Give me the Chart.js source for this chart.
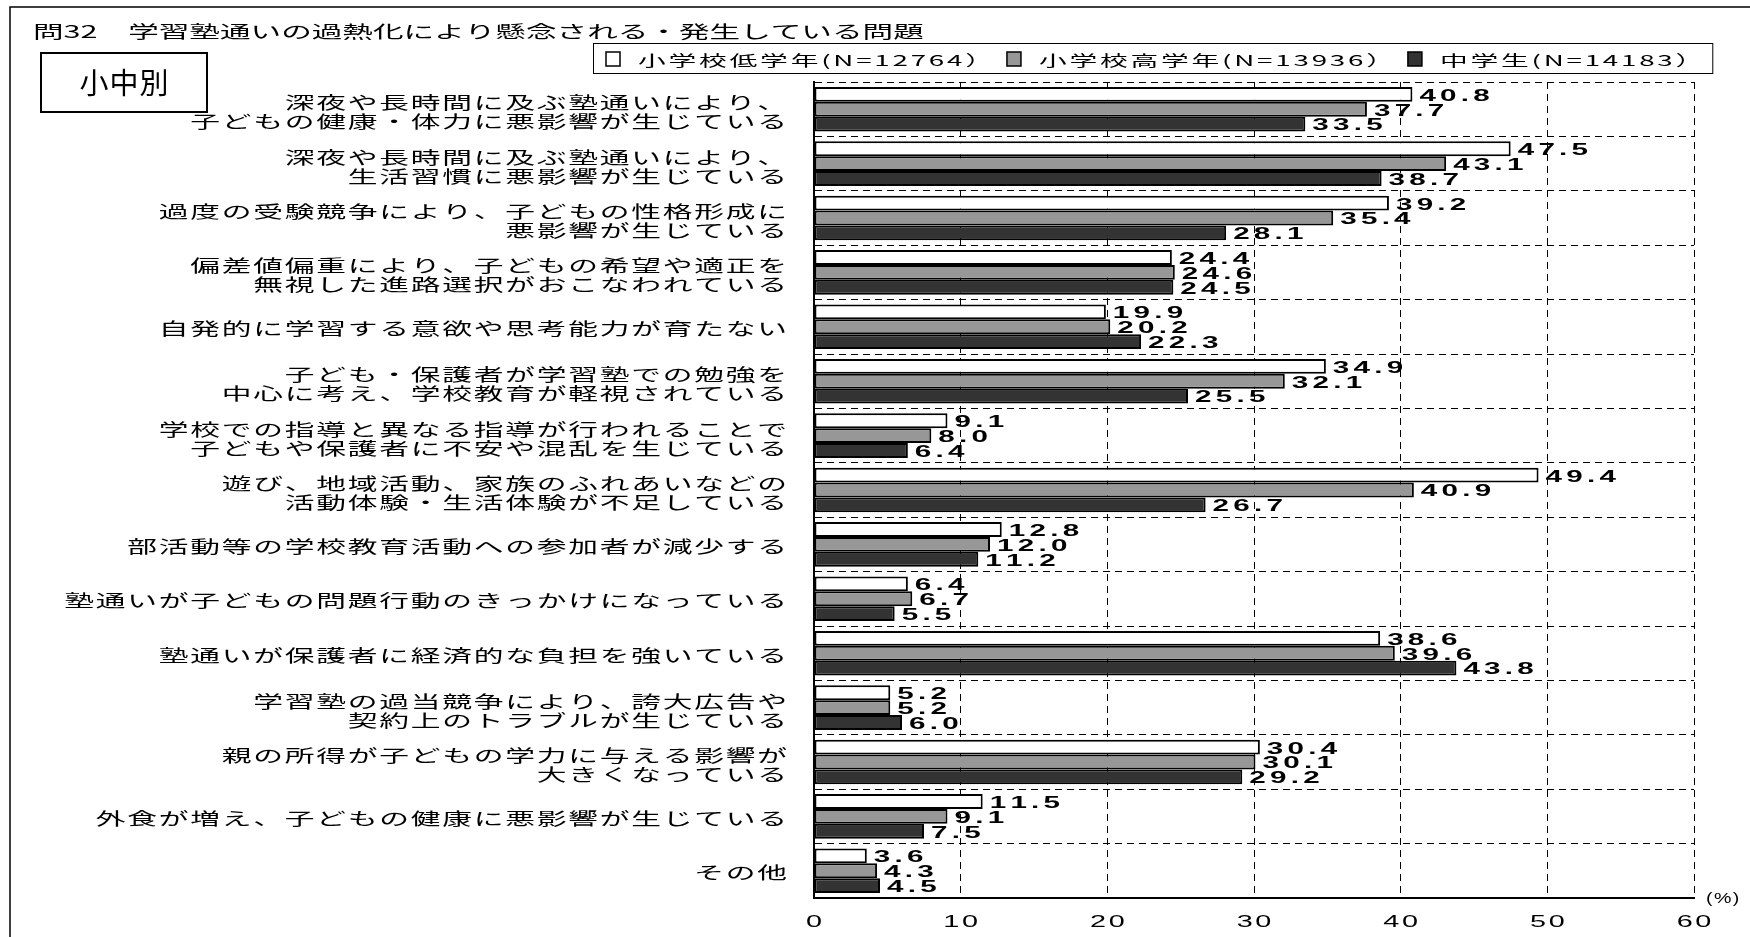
<!DOCTYPE html>
<html lang="ja">
<head>
<meta charset="utf-8">
<title>問32 学習塾通いの過熱化により懸念される・発生している問題</title>
<script src="https://cdn.jsdelivr.net/npm/chart.js@4.4.1/dist/chart.umd.min.js"></script>
<style>
  html, body { margin: 0; padding: 0; background: #fff; }
  #wrap { position: relative; width: 1750px; height: 937px; }
</style>
</head>
<body>
<div id="wrap"><canvas id="myChart"></canvas></div>
<script>
// データ
const titleText = '問32　学習塾通いの過熱化により懸念される・発生している問題';
const groupText = '小中別';

const categories = [
  ['深夜や長時間に及ぶ塾通いにより、', '子どもの健康・体力に悪影響が生じている'],
  ['深夜や長時間に及ぶ塾通いにより、', '生活習慣に悪影響が生じている'],
  ['過度の受験競争により、子どもの性格形成に', '悪影響が生じている'],
  ['偏差値偏重により、子どもの希望や適正を', '無視した進路選択がおこなわれている'],
  ['自発的に学習する意欲や思考能力が育たない'],
  ['子ども・保護者が学習塾での勉強を', '中心に考え、学校教育が軽視されている'],
  ['学校での指導と異なる指導が行われることで', '子どもや保護者に不安や混乱を生じている'],
  ['遊び、地域活動、家族のふれあいなどの', '活動体験・生活体験が不足している'],
  ['部活動等の学校教育活動への参加者が減少する'],
  ['塾通いが子どもの問題行動のきっかけになっている'],
  ['塾通いが保護者に経済的な負担を強いている'],
  ['学習塾の過当競争により、誇大広告や', '契約上のトラブルが生じている'],
  ['親の所得が子どもの学力に与える影響が', '大きくなっている'],
  ['外食が増え、子どもの健康に悪影響が生じている'],
  ['その他']
];

const seriesNames = ['小学校低学年(N=12764）', '小学校高学年(N=13936）', '中学生(N=14183）'];

const lowerElementary = [40.8, 47.5, 39.2, 24.4, 19.9, 34.9, 9.1, 49.4, 12.8, 6.4, 38.6, 5.2, 30.4, 11.5, 3.6];
const upperElementary = [37.7, 43.1, 35.4, 24.6, 20.2, 32.1, 8.0, 40.9, 12.0, 6.7, 39.6, 5.2, 30.1, 9.1, 4.3];
const juniorHigh      = [33.5, 38.7, 28.1, 24.5, 22.3, 25.5, 6.4, 26.7, 11.2, 5.5, 43.8, 6.0, 29.2, 7.5, 4.5];

const tickLabels = [0, 10, 20, 30, 40, 50, 60];
const unitText = '(%)';

const seriesColors = ['#ffffff', '#979797', '#333333'];
const seriesValues = [lowerElementary, upperElementary, juniorHigh];

// 横に伸ばした文字（字間は1文字ずつ描いてつける）
function spacedWidth(ctx, text, spacing) {
  if (!spacing) return ctx.measureText(text).width;
  let w = 0;
  for (const ch of text) w += ctx.measureText(ch).width + spacing;
  return w - spacing;
}

function stretchText(ctx, text, x, y, font, sx, align, spacing) {
  ctx.save();
  ctx.translate(x, y);
  ctx.scale(sx, 1);
  ctx.font = font;
  ctx.textAlign = 'left';
  ctx.textBaseline = 'middle';
  ctx.fillStyle = '#000';
  const w = spacedWidth(ctx, text, spacing);
  let px = 0;
  if (align === 'right') px = -w;
  else if (align === 'center') px = -w / 2;
  if (!spacing) {
    ctx.fillText(text, px, 0);
  } else {
    for (const ch of text) {
      ctx.fillText(ch, px, 0);
      px += ctx.measureText(ch).width + spacing;
    }
  }
  ctx.restore();
}

function textWidth(ctx, text, font, sx, spacing) {
  ctx.save();
  ctx.font = font;
  const w = spacedWidth(ctx, text, spacing) * sx;
  ctx.restore();
  return w;
}

const JP = '"Noto Sans CJK JP", "Noto Sans CJK SC", sans-serif';
const LAT = '"Liberation Sans", Arial, sans-serif';

// 枠・タイトル・凡例・軸ラベル
const decorations = {
  id: 'decorations',
  beforeDraw(chart) {
    const ctx = chart.ctx;
    ctx.save();
    ctx.fillStyle = '#fff';
    ctx.fillRect(0, 0, chart.width, chart.height);
    ctx.strokeStyle = '#000';
    ctx.lineWidth = 1.5;
    ctx.beginPath();
    ctx.moveTo(10, chart.height);
    ctx.lineTo(10, 7);
    ctx.lineTo(chart.width, 7);
    ctx.stroke();
    ctx.restore();
  },
  afterDraw(chart) {
    const ctx = chart.ctx;
    const xs = chart.scales.x;
    const ys = chart.scales.y;

    // タイトル
    stretchText(ctx, titleText, 33, 32, '17px ' + JP, 1.8, 'left', 0);

    // 小中別
    ctx.save();
    ctx.strokeStyle = '#000';
    ctx.lineWidth = 2;
    ctx.strokeRect(41, 53, 166, 59);
    ctx.restore();
    stretchText(ctx, groupText, 124, 83, '29px ' + JP, 1.0, 'center', 1);

    // 凡例
    const lf = '15px ' + JP, lsx = 1.85, lsp = 1.5;
    let x = 606;
    const ly = 59;
    const parts = [];
    seriesNames.forEach((name, k) => {
      const w = textWidth(ctx, name, lf, lsx, lsp);
      parts.push({ x, w, k, name });
      x += 15 + 17 + w + 14;
    });
    const boxRight = x - 14 + 9;
    ctx.save();
    ctx.strokeStyle = '#000';
    ctx.lineWidth = 1;
    ctx.strokeRect(593.5, 43.5, boxRight - 593, 30);
    parts.forEach(p => {
      ctx.fillStyle = seriesColors[p.k];
      ctx.fillRect(p.x, ly - 7, 14, 14);
      ctx.lineWidth = 1.5;
      ctx.strokeRect(p.x, ly - 7, 14, 14);
    });
    ctx.restore();
    parts.forEach(p => stretchText(ctx, p.name, p.x + 32, ly + 1, lf, lsx, 'left', lsp));

    // 項目ラベル
    const cf = '17px ' + JP;
    chart.data.labels.forEach((lines, i) => {
      const cy = ys.getPixelForValue(i);
      const n = lines.length;
      lines.forEach((line, j) => {
        const dy = (j - (n - 1) / 2) * 19 + (n > 1 ? 3 : 2);
        stretchText(ctx, line, 787, cy + dy, cf, 1.75, 'right', 1);
      });
    });

    // 目盛ラベル
    tickLabels.forEach(v => {
      stretchText(ctx, String(v), xs.getPixelForValue(v), 923, '16px ' + LAT, 1.8, 'center', 1.5);
    });
    stretchText(ctx, unitText, 1706, 899, '14px ' + LAT, 1.4, 'left', 1);
  }
};

// バーの数値
const valueLabels = {
  id: 'valueLabels',
  afterDatasetsDraw(chart) {
    const ctx = chart.ctx;
    chart.data.datasets.forEach((ds, k) => {
      const meta = chart.getDatasetMeta(k);
      meta.data.forEach((bar, i) => {
        const v = ds.data[i];
        stretchText(ctx, v.toFixed(1), bar.x + 7, bar.y + 2, 'bold 16px ' + LAT, 1.85, 'left', 2.3);
      });
    });
  }
};

window.addEventListener('DOMContentLoaded', () => {
  const ctx = document.getElementById('myChart').getContext('2d');
  new Chart(ctx, {
    type: 'bar',
    data: {
      labels: categories,
      datasets: seriesNames.map((name, k) => ({
        label: name,
        data: seriesValues[k],
        backgroundColor: seriesColors[k],
        borderColor: '#000',
        borderWidth: 2,
        borderSkipped: false,
        categoryPercentage: 0.82,
        barPercentage: 1.0
      }))
    },
    options: {
      indexAxis: 'y',
      responsive: true,
      maintainAspectRatio: false,
      animation: false,
      layout: { padding: { left: 814, right: 56, top: 82, bottom: 39 } },
      plugins: {
        legend: { display: false },
        title: { display: false },
        tooltip: { enabled: false }
      },
      scales: {
        x: {
          min: 0,
          max: 60,
          ticks: { stepSize: 10, display: false },
          grid: { color: '#000', lineWidth: 1, drawTicks: false },
          border: { display: true, color: '#000', width: 2, dash: [7, 5] }
        },
        y: {
          ticks: { display: false },
          grid: { color: '#000', lineWidth: 1, drawTicks: false, offset: true },
          border: { display: true, color: '#000', width: 2, dash: [7, 5] }
        }
      }
    },
    plugins: [decorations, valueLabels]
  });
});
</script>
</body>
</html>
